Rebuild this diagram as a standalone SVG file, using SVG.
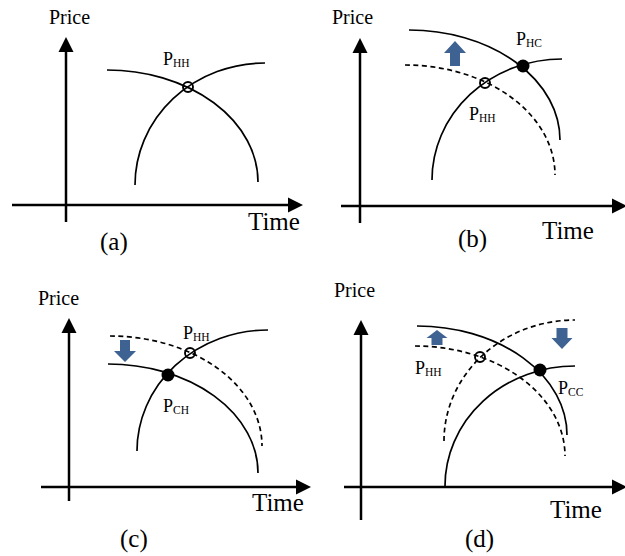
<svg xmlns="http://www.w3.org/2000/svg" width="625" height="556" viewBox="0 0 625 556">
<style>
.ax{fill:none;stroke:#000;stroke-width:2.5;marker-end:url(#ah)}
.cv{fill:none;stroke:#000;stroke-width:1.7}
.dc{fill:none;stroke:#000;stroke-width:1.7;stroke-dasharray:5 3.5}
.op{fill:none;stroke:#000;stroke-width:1.9}
.fl{fill:#000}
.blk{fill:#3E6291}
.pr{font-size:20px}
.tm{font-size:25px}
.cap{font-size:25px}
.pl{font-size:18px}
.sb{font-size:11.5px}
</style>
<defs>
<marker id="ah" markerUnits="userSpaceOnUse" markerWidth="16" markerHeight="16" refX="0" refY="7.5" orient="auto" overflow="visible">
<path d="M0,0 L15,7.5 L0,15 Z" fill="#000"/>
</marker>
</defs>
<g id="panel-a" font-family="Liberation Serif, Times New Roman, serif">
<path class="ax" d="M66,222 L66,52"/>
<path class="ax" d="M12,205 L288,205"/>
<path class="cv" d="M107,70 A151,112 0 0 1 258,182"/>
<path class="cv" d="M135,185 A130,122 0 0 1 265,63"/>
<circle class="op" cx="188" cy="87" r="5"/>
<text class="pr" x="49" y="24">Price</text>
<text class="pl" x="163" y="65">P<tspan class="sb" dy="2">HH</tspan></text>
<text class="tm" x="248" y="230">Time</text>
<text class="cap" x="100" y="250">(a)</text>
</g>
<g id="panel-b" font-family="Liberation Serif, Times New Roman, serif">
<path class="ax" d="M360,223 L360,53"/>
<path class="ax" d="M341,206 L612,206"/>
<path class="cv" d="M409,30 A151,110 0 0 1 560,140"/>
<path class="dc" d="M405,65 A150,110 0 0 1 555,175"/>
<path class="cv" d="M432,180 A130,121 0 0 1 562,59"/>
<circle class="op" cx="485" cy="83" r="5"/>
<circle class="fl" cx="523" cy="66" r="6.5"/>
<path class="blk" d="M455,41 L466,53 L460,53 L460,66 L450,66 L450,53 L444,53 Z"/>
<text class="pr" x="332" y="24">Price</text>
<text class="pl" x="516" y="45">P<tspan class="sb" dy="2">HC</tspan></text>
<text class="pl" x="469" y="120">P<tspan class="sb" dy="2">HH</tspan></text>
<text class="tm" x="542" y="239">Time</text>
<text class="cap" x="458" y="247">(b)</text>
</g>
<g id="panel-c" font-family="Liberation Serif, Times New Roman, serif">
<path class="ax" d="M69,501 L69,333"/>
<path class="ax" d="M41,487 L296,487"/>
<path class="dc" d="M110,336 A152,110 0 0 1 262,446"/>
<path class="cv" d="M108,364 A150,109 0 0 1 258,473"/>
<path class="cv" d="M137,451 A131,121 0 0 1 268,330"/>
<circle class="op" cx="190" cy="353" r="5"/>
<circle class="fl" cx="168" cy="375" r="6.5"/>
<path class="blk" d="M125,362 L114,351 L120,351 L120,340 L130,340 L130,351 L136,351 Z"/>
<text class="pr" x="38" y="305">Price</text>
<text class="pl" x="183" y="339">P<tspan class="sb" dy="2">HH</tspan></text>
<text class="pl" x="163" y="412">P<tspan class="sb" dy="2">CH</tspan></text>
<text class="tm" x="252" y="511">Time</text>
<text class="cap" x="120" y="547">(c)</text>
</g>
<g id="panel-d" font-family="Liberation Serif, Times New Roman, serif">
<path class="ax" d="M361,520 L361,335"/>
<path class="ax" d="M344,487 L612,487"/>
<path class="cv" d="M417,326 A150,109 0 0 1 567,435"/>
<path class="dc" d="M415,346 A150,110 0 0 1 565,456"/>
<path class="dc" d="M444,441 A131,121 0 0 1 575,320"/>
<path class="cv" d="M445,486 A130,120 0 0 1 575,366"/>
<circle class="op" cx="480" cy="357" r="5"/>
<circle class="fl" cx="540" cy="370" r="6.5"/>
<path class="blk" d="M437,330 L447.5,338 L442.5,338 L442.5,345 L431.5,345 L431.5,338 L426.5,338 Z"/>
<path class="blk" d="M562,349 L572.5,338 L567.5,338 L567.5,328 L556.5,328 L556.5,338 L551.5,338 Z"/>
<text class="pr" x="334" y="297">Price</text>
<text class="pl" x="415" y="374">P<tspan class="sb" dy="2">HH</tspan></text>
<text class="pl" x="558" y="394">P<tspan class="sb" dy="2">CC</tspan></text>
<text class="tm" x="550" y="518">Time</text>
<text class="cap" x="465" y="547">(d)</text>
</g>
</svg>
